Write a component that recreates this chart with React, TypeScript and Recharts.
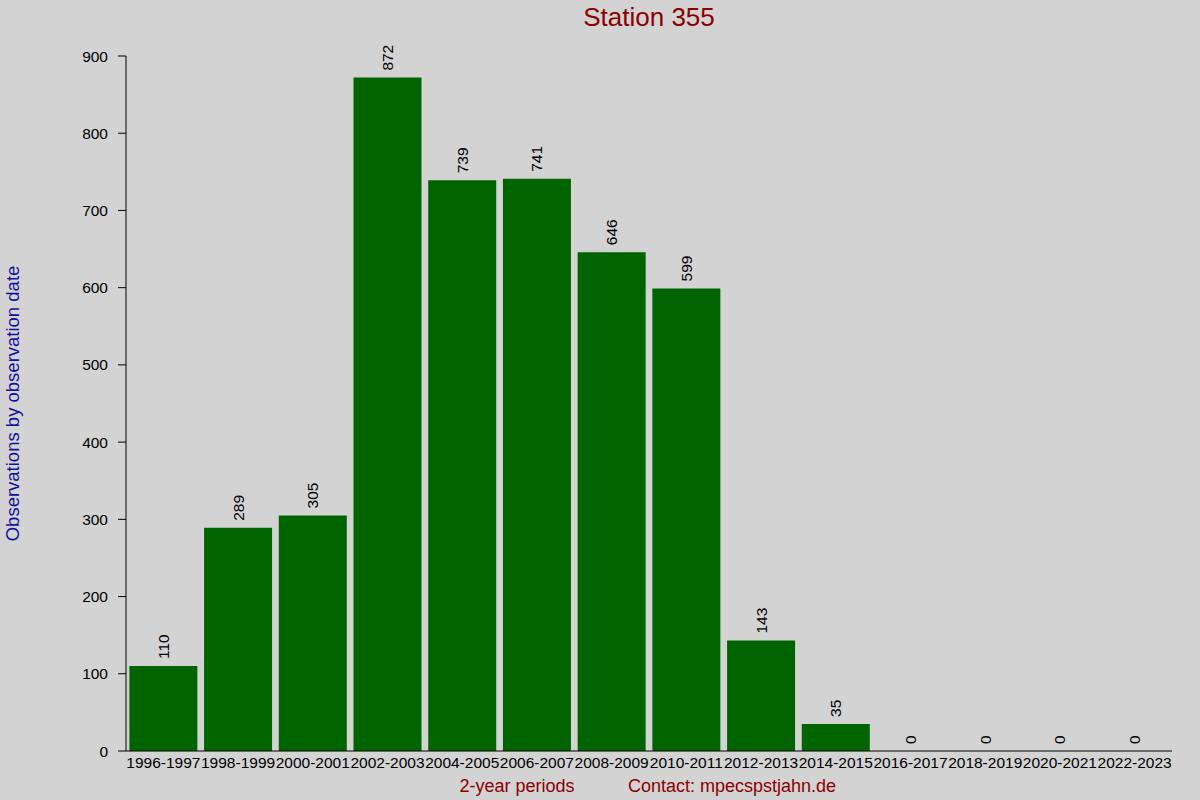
import React from "react";
import {
  ComposedChart,
  Bar,
  Line,
  XAxis,
  YAxis,
  LabelList,
  Label,
} from "recharts";

// 2-year periods and the number of observations in each
const periods = [
  "1996-1997",
  "1998-1999",
  "2000-2001",
  "2002-2003",
  "2004-2005",
  "2006-2007",
  "2008-2009",
  "2010-2011",
  "2012-2013",
  "2014-2015",
  "2016-2017",
  "2018-2019",
  "2020-2021",
  "2022-2023",
];
const observations = [110, 289, 305, 872, 739, 741, 646, 599, 143, 35, 0, 0, 0, 0];
const yTicks = [0, 100, 200, 300, 400, 500, 600, 700, 800, 900];

const data = periods.map((period, i) => ({ period, count: observations[i] }));

const FONT = "'Liberation Sans', Arial, sans-serif";
const RED = "#8b0000";

// value written upwards above the top of the bar (x is the category centre)
const RotatedValue = (props: any) => {
  const { x, y, value } = props;
  const cx = x;
  const cy = y - 7;
  return (
    <text
      x={cx}
      y={cy}
      transform={`rotate(-90 ${cx} ${cy})`}
      textAnchor="start"
      dominantBaseline="central"
      fontSize={15.5}
      fontFamily={FONT}
      fill="#000"
    >
      {value}
    </text>
  );
};

const BottomTitles = () => (
  <g fontFamily={FONT} fontSize={18} fill={RED}>
    <text x={517} y={792} textAnchor="middle">
      2-year periods
    </text>
    <text x={732} y={792} textAnchor="middle">
      Contact: mpecspstjahn.de
    </text>
  </g>
);

export default function App() {
  return (
    <div
      style={{
        position: "absolute",
        left: 0,
        top: 0,
        width: 1200,
        height: 800,
        background: "#d3d3d3",
        fontFamily: FONT,
      }}
    >
      <div
        style={{
          position: "absolute",
          left: 0,
          top: 2,
          width: 1298,
          textAlign: "center",
          fontSize: 26,
          color: RED,
        }}
      >
        Station 355
      </div>
      <ComposedChart
        width={1200}
        height={800}
        data={data}
        margin={{ top: 56, right: 28, bottom: 0, left: 0 }}
        barCategoryGap="4.5%"
      >
        <XAxis
          dataKey="period"
          interval={0}
          stroke="#000"
          tickLine={false}
          tickSize={0}
          tickMargin={6}
          height={49}
          tick={{ fill: "#000", fontSize: 15.5, fontFamily: FONT }}
        >
          <Label content={() => <BottomTitles />} />
        </XAxis>
        <XAxis
          xAxisId="top"
          dataKey="period"
          orientation="top"
          interval={0}
          height={0}
          axisLine={false}
          tick={false}
          tickSize={1}
          tickLine={{ stroke: "#000" }}
        />
        <YAxis
          domain={[0, 900]}
          ticks={yTicks}
          width={126}
          stroke="#000"
          tickSize={8}
          tickMargin={10}
          tick={{ fill: "#000", fontSize: 15.5, fontFamily: FONT }}
        >
          <Label
            value="Observations by observation date"
            angle={-90}
            position="insideLeft"
            offset={12}
            style={{ fill: "#1010a0", fontSize: 18.5, fontFamily: FONT, textAnchor: "middle" }}
          />
        </YAxis>
        <Bar dataKey="count" fill="#006400" isAnimationActive={false} />
        <Line
          dataKey="count"
          stroke="none"
          dot={false}
          activeDot={false}
          legendType="none"
          isAnimationActive={false}
        >
          <LabelList dataKey="count" content={<RotatedValue />} />
        </Line>
      </ComposedChart>
    </div>
  );
}
